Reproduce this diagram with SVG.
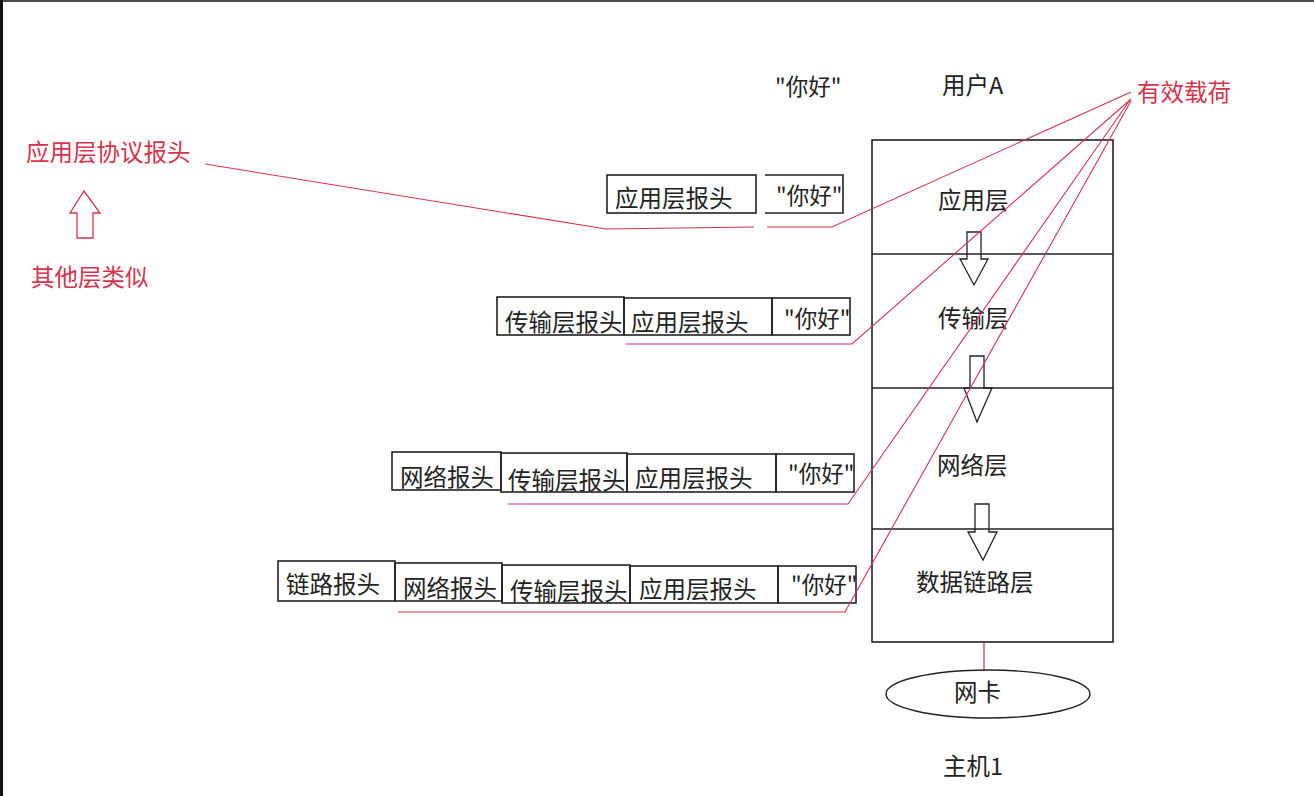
<svg xmlns="http://www.w3.org/2000/svg" width="1314" height="796" viewBox="0 0 1314 796">
<style>
text{font-family:"Noto Sans CJK SC","Liberation Sans",sans-serif;font-size:23.5px;fill:#222}
.q{font-size:22.5px}
.red{fill:#d6334e}
.box{fill:none;stroke:#222;stroke-width:1.6}
.rl{fill:none;stroke:#d6334e;stroke-width:1.1}
.harrow{fill:none;stroke:#222;stroke-width:1.3}
</style>
<rect width="1314" height="796" fill="#fff"/>
<rect x="0" y="0" width="3" height="796" fill="#111"/>
<line x1="0" y1="1" x2="1314" y2="1" stroke="#111" stroke-width="1.5"/>

<g id="labels-top">
<text class="q" x="775" y="95">"你好"</text>
<text x="942" y="94">用户A</text>
<text class="red" x="1137" y="101">有效载荷</text>
</g>

<g id="annotation">
<text class="red" x="26" y="161">应用层协议报头</text>
<polygon points="77,238 93,238 93,213 100,213 84,191 70,213 77,213" fill="none" stroke="#d6334e" stroke-width="1.3"/>
<text class="red" x="31" y="286">其他层类似</text>
</g>

<g id="stack">
<rect class="box" x="872" y="140" width="241" height="502"/>
<line x1="872" y1="254" x2="1113" y2="254" stroke="#222" stroke-width="1.3"/>
<line x1="872" y1="388" x2="1113" y2="388" stroke="#222" stroke-width="1.3"/>
<line x1="872" y1="529" x2="1113" y2="529" stroke="#222" stroke-width="1.3"/>
<text x="938" y="209">应用层</text>
<text x="938" y="327">传输层</text>
<text x="937" y="474">网络层</text>
<text x="916" y="591">数据链路层</text>
<polygon class="harrow" points="967,232 981,232 981,259 988,259 974,285 960,259 967,259"/>
<polygon class="harrow" points="970,356 984,356 984,388 992,388 977,422 964,388 970,388"/>
<polygon class="harrow" points="975,504 989,504 989,532 997,532 983,560 968,532 975,532"/>
</g>

<g id="nic">
<line x1="984" y1="642" x2="984" y2="670" stroke="#a04050" stroke-width="1.2"/>
<ellipse cx="988" cy="694" rx="102" ry="24" fill="none" stroke="#222" stroke-width="1.4"/>
<text x="954" y="701">网卡</text>
<text x="943" y="775">主机1</text>
</g>

<g id="row1">
<rect class="box" x="607" y="175" width="149" height="38"/>
<path class="box" d="M765,175 H843 V213 H765"/>
<text x="615" y="207">应用层报头</text>
<text class="q" x="776" y="204">"你好"</text>
</g>

<g id="row2">
<rect class="box" x="497" y="297" width="127" height="38"/>
<rect class="box" x="624" y="298" width="148" height="37"/>
<rect class="box" x="772" y="298" width="78" height="37"/>
<text x="505" y="331">传输层报头</text>
<text x="631" y="331">应用层报头</text>
<text class="q" x="784" y="327">"你好"</text>
</g>

<g id="row3">
<rect class="box" x="392" y="452" width="109" height="38"/>
<rect class="box" x="501" y="453" width="126" height="39"/>
<rect class="box" x="627" y="454" width="149" height="38"/>
<rect class="box" x="776" y="454" width="78" height="38"/>
<text x="400" y="486">网络报头</text>
<text x="508" y="489">传输层报头</text>
<text x="635" y="487">应用层报头</text>
<text class="q" x="788" y="482">"你好"</text>
</g>

<g id="row4">
<rect class="box" x="278" y="561" width="117" height="40"/>
<rect class="box" x="395" y="563" width="107" height="38"/>
<rect class="box" x="502" y="565" width="128" height="38"/>
<rect class="box" x="630" y="566" width="148" height="37"/>
<rect class="box" x="778" y="566" width="78" height="37"/>
<text x="286" y="593">链路报头</text>
<text x="403" y="597">网络报头</text>
<text x="510" y="600">传输层报头</text>
<text x="639" y="598">应用层报头</text>
<text class="q" x="791" y="593">"你好"</text>
</g>

<g id="connectors">
<polyline class="rl" points="205,164 606,229 754,227"/>
<polyline class="rl" points="767,227 832,227 1131,92"/>
<polyline class="rl" points="626,344 852,344 1131,99"/>
<polyline class="rl" points="508,504 848,504 1130,100"/>
<polyline class="rl" points="398,612 845,612 1131,101"/>
</g>
</svg>
